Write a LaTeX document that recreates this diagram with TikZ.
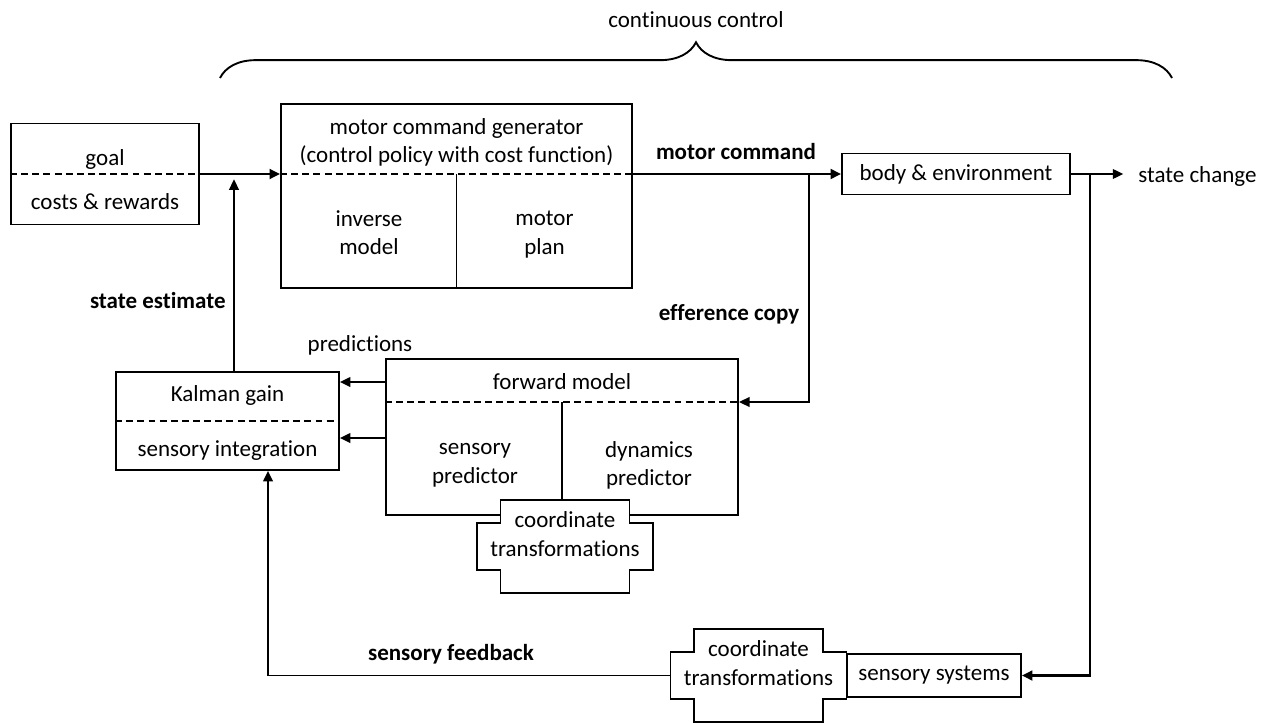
\documentclass[tikz,border=0pt,11pt]{standalone}
\usepackage{fontspec}
\setmainfont{Carlito}[Ligatures=NoCommon]
\usetikzlibrary{arrows.meta,decorations.pathreplacing}

\begin{document}
\begin{tikzpicture}[x=0.476pt,y=-0.476pt,line join=miter,
  box/.style={draw,line width=0.9pt,inner sep=0pt},
  cut/.style={line width=0.9pt,dash pattern=on 3.3pt off 2pt},
  wire/.style={line width=0.8pt},
  bus/.style={line width=1.3pt},
  arr/.style={-{Triangle[length=5pt,width=4.6pt]}},
  txt/.style={align=center,inner sep=0pt,yshift=-1.3pt,execute at begin node=\strut,execute at end node=\strut},
  lbl/.style={txt,font=\bfseries}]
\useasboundingbox (0,0) rectangle (1268,723);

% bracket over the loop
\draw[line width=0.9pt,decorate,decoration={brace,amplitude=17pt}] (220,78) -- (1172,78);
\node[txt] (cont) at (696,19) {continuous control};

% goal / costs
\node[box,minimum width=89.5pt,minimum height=48.1pt] (goalbox) at (105,174) {};
\draw[cut] (goalbox.west) -- (goalbox.east);
\node[txt] (goal) at (105,157) {goal};
\node[txt] (costs) at (105,201) {costs \& rewards};

% motor command generator
\node[box,minimum width=167.1pt,minimum height=87.6pt] (motorbox) at (456.5,196) {};
\draw[cut] (motorbox.west |- goalbox.east) -- (motorbox.east |- goalbox.east);
\draw[line width=0.9pt] (motorbox.south) -- (motorbox.south |- goalbox.east);
\node[txt] (mcg) at (456.5,142) {motor command generator\\(control policy with cost function)};
\node[txt] (invmodel) at (369,234) {inverse\\model};
\node[txt] (mplan) at (544.5,234) {motor\\plan};

% body and environment
\node[box,minimum width=108.5pt,minimum height=19.5pt] (bodybox) at (956,174) {body \& environment};
\node[txt,anchor=west] (statechg) at (1138,174) {state change};

% forward model
\coordinate (fwdcut) at (562,402);
\node[box,minimum width=167.6pt,minimum height=74.3pt] (fwdbox) at (562,437) {};
\draw[cut] (fwdbox.west |- fwdcut) -- (fwdbox.east |- fwdcut);
\draw[line width=0.9pt] (fwdcut) -- (fwdbox.south);
\node[txt] (fwdmodel) at (562,381) {forward model};
\node[txt] (senspred) at (475,465) {sensory\\predictor};
\node[txt] (dynpred) at (649,465) {dynamics\\predictor};

\begin{scope}[shift={(565,546.5)}]
\draw[line width=0.9pt,fill=white] (-64.5,-46.5) -- (64.5,-46.5) -- (64.5,-23.5) -- (88,-23.5) -- (88,23.5) -- (64.5,23.5) -- (64.5,46.5) -- (-64.5,46.5) -- (-64.5,23.5) -- (-88,23.5) -- (-88,-23.5) -- (-64.5,-23.5) -- cycle;
\node[txt] (ctfwd) at (0,-11) {coordinate\\transformations};
\end{scope}

% Kalman gain
\node[box,minimum width=106.1pt,minimum height=46.6pt] (kalman) at (227.5,421) {};
\draw[cut] (kalman.west) -- (kalman.east);
\node[txt] (kgain) at (227.5,393) {Kalman gain};
\node[txt] (sensint) at (227.5,448) {sensory integration};

% sensory systems
\begin{scope}[shift={(758.5,675.5)}]
\draw[line width=0.9pt,fill=white] (-64.5,-46.5) -- (64.5,-46.5) -- (64.5,-23.5) -- (88,-23.5) -- (88,23.5) -- (64.5,23.5) -- (64.5,46.5) -- (-64.5,46.5) -- (-64.5,23.5) -- (-88,23.5) -- (-88,-23.5) -- (-64.5,-23.5) -- cycle;
\node[txt] (ctsens) at (0,-11) {coordinate\\transformations};
\coordinate (ctin) at (-88,0);
\end{scope}
\node[box,minimum width=82.8pt,minimum height=20.5pt] (sensbox) at (934,675.5) {sensory systems};

% signal flow
\coordinate (efbranch) at (809,174);
\coordinate (sbranch) at (1090,174);
\draw[bus,arr] (goalbox.east) -- (motorbox.west |- goalbox.east);
\draw[bus,arr] (motorbox.east |- goalbox.east) -- (bodybox.west);
\draw[wire,arr] (efbranch) |- (fwdbox.east |- fwdcut);
\draw[wire,arr,shorten >=7pt] (bodybox.east) -- (bodybox.east -| statechg.west);
\draw[bus,arr] (sbranch) |- (sensbox.east);
\draw[wire,arr] (fwdbox.west |- 0,382) -- (kalman.east |- 0,382);
\draw[wire,arr] (fwdbox.west |- 0,438) -- (kalman.east |- 0,438);
\draw[wire,arr,shorten >=2.5pt] (234,0 |- kalman.north) -- (234,0 |- goalbox.east);
\draw[wire,arr] (ctin) -| (268,0 |- kalman.south);

\node[lbl] (mcmd) at (736,151) {motor command};
\node[lbl] (efcopy) at (729,312) {efference copy};
\node[lbl,anchor=east] (stest) at (226,300) {state estimate};
\node[txt] (pred) at (360,343) {predictions};
\node[lbl] (sfb) at (451,652) {sensory feedback};
\end{tikzpicture}
\end{document}
